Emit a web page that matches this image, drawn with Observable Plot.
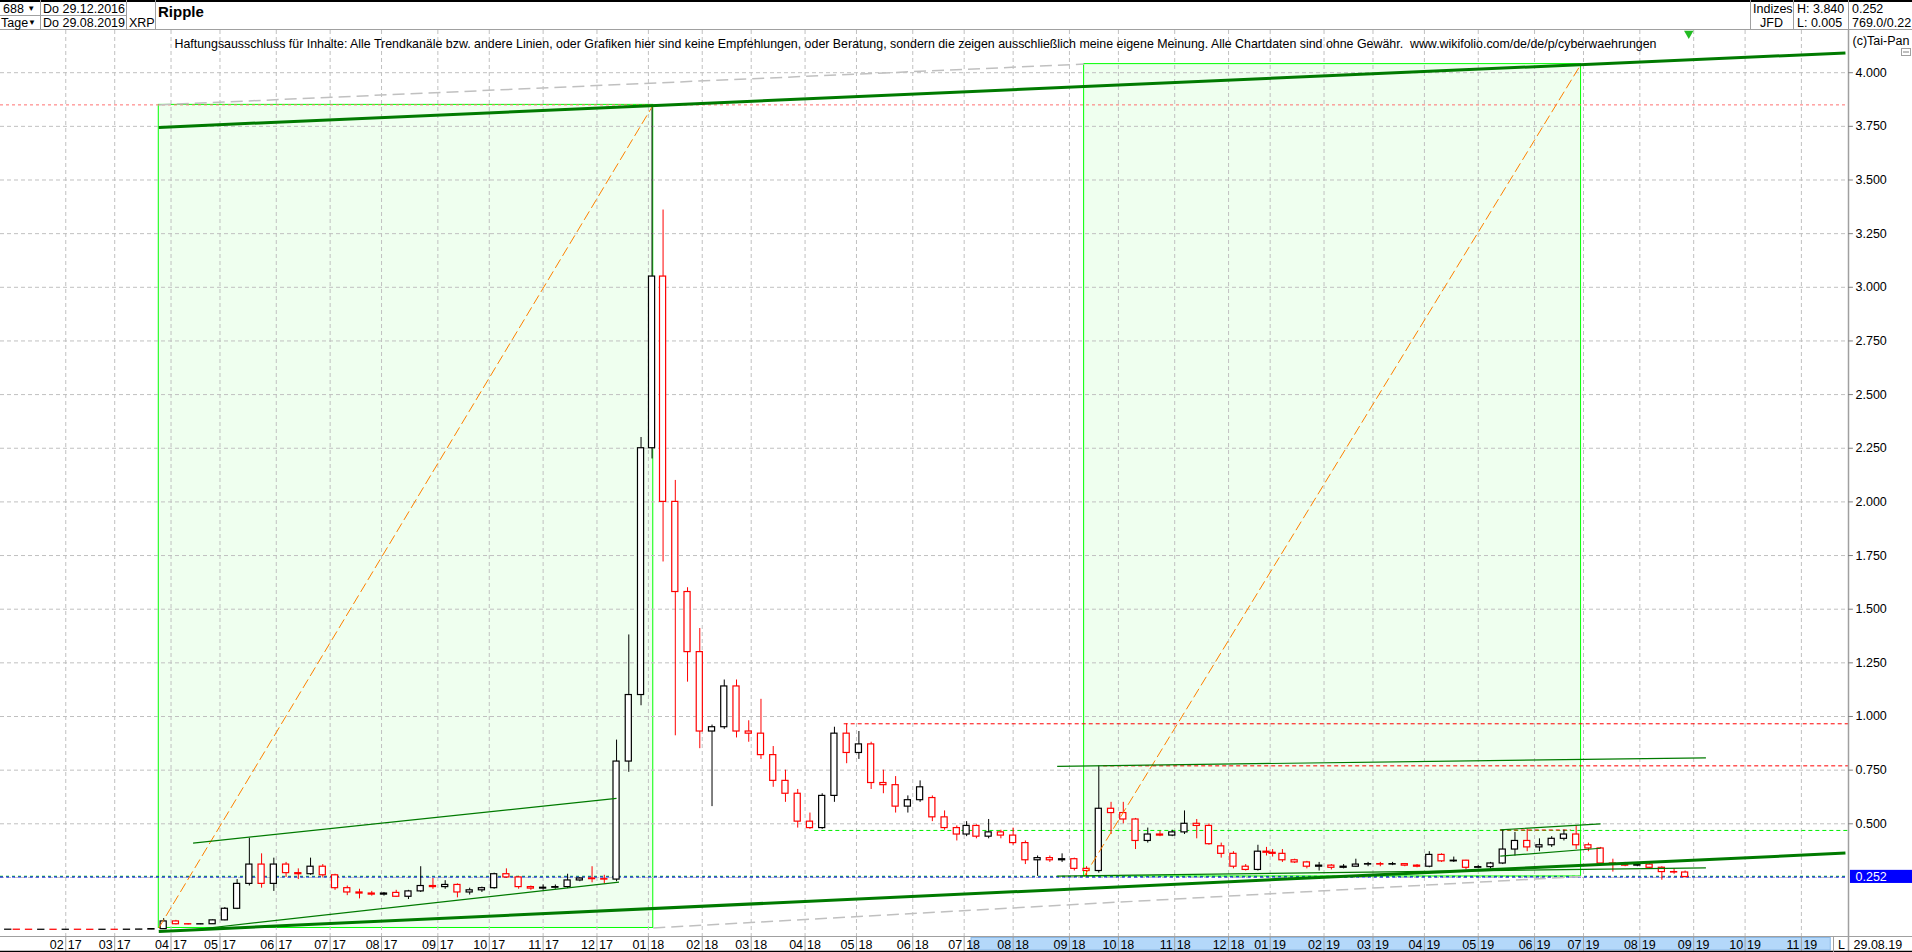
<!DOCTYPE html>
<html><head><meta charset="utf-8">
<script src="https://cdn.jsdelivr.net/npm/d3@7"></script>
<script src="https://cdn.jsdelivr.net/npm/@observablehq/plot@0.6"></script>
<style>
html,body{margin:0;padding:0;background:#fff;}
body{width:1912px;height:952px;overflow:hidden;font-family:"Liberation Sans",Arial,sans-serif;}
#hdr{position:relative;height:30px;width:1912px;}
.c{position:absolute;font-size:12.5px;line-height:14px;white-space:nowrap;color:#000;}
.ln{position:absolute;background:#a0a0a0;}
.tri{font-size:8px;vertical-align:2px;}
#chart{position:relative;height:922px;}
</style></head><body>
<div id="hdr">
  <div class="ln" style="left:0;top:0;width:1912px;height:2px;background:#000"></div>
  <div class="ln" style="left:0;top:29px;width:1912px;height:1px;"></div>
  <div class="ln" style="left:0;top:15px;width:126px;height:1px;"></div>
  <div class="ln" style="left:40px;top:0;width:1px;height:30px;"></div>
  <div class="ln" style="left:126px;top:0;width:1px;height:30px;"></div>
  <div class="ln" style="left:155px;top:0;width:1px;height:30px;"></div>
  <div class="ln" style="left:1750px;top:0;width:1px;height:30px;"></div>
  <div class="ln" style="left:1793px;top:0;width:1px;height:30px;"></div>
  <div class="ln" style="left:1848px;top:0;width:1px;height:30px;"></div>
  <div class="c" style="left:3px;top:2px">688 <span class="tri">▼</span></div>
  <div class="c" style="left:1px;top:16px">Tage<span class="tri">▼</span></div>
  <div class="c" style="left:43px;top:2px">Do 29.12.2016</div>
  <div class="c" style="left:43px;top:16px">Do 29.08.2019</div>
  <div class="c" style="left:129px;top:16px">XRP</div>
  <div class="c" style="left:158px;top:4px;font-weight:bold;font-size:15px;line-height:16px">Ripple</div>
  <div class="c" style="left:1753px;top:2px">Indizes</div>
  <div class="c" style="left:1760px;top:16px">JFD</div>
  <div class="c" style="left:1797px;top:2px">H: 3.840</div>
  <div class="c" style="left:1797px;top:16px">L: 0.005</div>
  <div class="c" style="left:1852px;top:2px">0.252</div>
  <div class="c" style="left:1852px;top:16px">769.0/0.22</div>
</div>
<div id="chart"></div>
<script>
// ---------------- data ----------------
const firstMonday = "2016-12-26";
const lastMonday = "2019-08-26";
const holidays = ["2018-01-01","2018-07-03","2018-07-04","2018-12-24","2018-12-25","2018-12-26","2018-12-31","2019-01-01"];

const weekOpen  = [.0064,.0065,.0063,.0061,.0062,.0061,.0063,.0061,.0060,.0062,.0061,.0066,.0072,.0092,.045,.032,.031,.032,.050,.104,.220,.310,.220,.310,.270,.265,.300,.260,.200,.180,.175,.170,.178,.160,.185,.210,.205,.215,.180,.190,.200,.265,.250,.205,.198,.202,.205,.236,.245,.242,.240,.790,1.10,2.25,3.05,2.00,1.58,1.30,.93,.95,1.14,.93,.92,.82,.70,.64,.51,.48,.63,.92,.83,.87,.69,.68,.58,.61,.62,.53,.48,.45,.49,.44,.46,.445,.41,.33,.34,.33,.335,.29,.28,.57,.55,.52,.42,.45,.445,.46,.50,.49,.395,.36,.30,.285,.37,.365,.36,.33,.32,.30,.305,.295,.30,.31,.312,.31,.312,.305,.30,.355,.325,.328,.295,.298,.315,.38,.42,.39,.40,.43,.45,.40,.385,.315,.31,.305,.31,.295,.275,.273];
const weekHigh  = [.0066,.0068,.0064,.0063,.0063,.0064,.0064,.0062,.0063,.0064,.0068,.0080,.0100,.058,.050,.034,.034,.052,.110,.240,.433,.360,.340,.320,.290,.340,.310,.265,.210,.195,.185,.180,.190,.190,.300,.245,.235,.220,.200,.205,.270,.290,.255,.210,.215,.215,.265,.250,.300,.260,.890,1.38,2.30,3.84,3.36,2.10,1.60,1.41,.96,1.17,1.17,.98,1.08,.86,.75,.66,.55,.64,.95,.966,.93,.88,.75,.72,.63,.70,.63,.56,.49,.51,.495,.52,.47,.48,.42,.35,.35,.36,.34,.30,.77,.60,.60,.525,.48,.465,.47,.56,.52,.50,.41,.37,.31,.40,.39,.38,.38,.335,.325,.32,.31,.31,.335,.32,.32,.32,.315,.31,.37,.36,.345,.33,.305,.32,.47,.46,.475,.43,.44,.47,.49,.41,.39,.335,.32,.32,.315,.30,.29,.28];
const weekLow   = [.0063,.0062,.0060,.0059,.0060,.0060,.0060,.0050,.0058,.0060,.0060,.0065,.0070,.009,.029,.029,.030,.031,.048,.100,.210,.200,.185,.250,.240,.260,.250,.190,.165,.150,.163,.163,.157,.147,.180,.195,.195,.155,.168,.180,.195,.245,.195,.190,.190,.195,.198,.230,.225,.220,.230,.740,1.05,2.20,1.72,.91,1.16,.85,.58,.94,.90,.88,.80,.67,.60,.48,.474,.474,.60,.78,.80,.66,.64,.55,.55,.60,.51,.47,.42,.44,.43,.43,.43,.40,.31,.255,.32,.32,.28,.255,.27,.45,.50,.38,.41,.44,.44,.45,.43,.40,.34,.29,.28,.28,.35,.345,.32,.315,.29,.28,.285,.29,.298,.30,.30,.305,.30,.295,.295,.32,.32,.285,.29,.29,.31,.35,.37,.37,.39,.42,.38,.37,.305,.275,.30,.30,.29,.237,.265,.247];
const weekClose = [.0065,.0063,.0061,.0062,.0061,.0063,.0061,.0060,.0062,.0061,.0066,.0072,.0092,.045,.032,.031,.032,.050,.104,.220,.310,.220,.310,.270,.265,.300,.260,.200,.180,.175,.170,.175,.160,.185,.210,.205,.215,.180,.190,.200,.265,.250,.205,.198,.202,.205,.236,.245,.242,.240,.790,1.10,2.25,3.05,2.00,1.58,1.30,.93,.95,1.14,.93,.92,.82,.70,.64,.51,.48,.63,.92,.83,.87,.69,.68,.58,.61,.67,.53,.48,.45,.49,.44,.46,.445,.41,.33,.34,.33,.335,.29,.28,.57,.55,.52,.42,.45,.445,.46,.50,.49,.405,.36,.30,.285,.37,.365,.36,.33,.32,.30,.305,.295,.30,.31,.312,.31,.312,.305,.30,.355,.325,.328,.295,.298,.315,.38,.42,.39,.40,.43,.45,.40,.385,.315,.31,.305,.31,.295,.275,.273,.252];

const lastPrice = 0.252;
// boxes (date, price corners)
const boxDates1 = ["2017-03-27", "2018-09-11"];
const boxDates2 = ["2018-01-04", "2019-06-28"];
const boxLow  = [0.0145, 0.2545];
const boxHigh = [3.85, 4.04];
// trend lines: [start date, start price, end date, end price]
const thickLines = [
  ["2017-03-27", 3.745, "2019-11-27", 4.092],
  ["2017-03-27", -0.002, "2019-11-27", 0.3635]
];
const thinLines = [
  ["2017-04-14", 0.410, "2017-12-13", 0.618],
  ["2017-04-17", 0.0075, "2017-12-14", 0.228],
  ["2018-08-27", 0.768, "2019-09-09", 0.8075],
  ["2018-08-27", 0.256, "2019-09-09", 0.295],
  ["2019-05-14", 0.472, "2019-07-10", 0.500],
  ["2019-05-14", 0.349, "2019-07-10", 0.386]
];
const grayLines = [
  ["2017-03-27", 3.85, "2018-09-11", 4.04],
  ["2018-01-04", 0.0145, "2019-06-28", 0.2545]
];
// horizontal levels: [price, from date (null = whole width), to date (null = right edge), color, dash]
const levels = [
  [3.85, null, null, "#ff7070", "3,3"],
  [0.966, "2018-04-24", null, "#ff0000", "4,3"],
  [0.77, "2018-09-21", null, "#ff0000", "4,3"],
  [0.469, "2018-04-06", null, "#00ee00", "4,3"],
  [0.471, "2019-05-14", "2019-06-24", "#ff0000", "4,3"],
  [0.2555, null, null, "#00cc00", "3,3"],
  [0.252, null, null, "#0000ff", "3,3"]
];
const gridPrices = d3.range(0.25, 4.001, 0.25);
const axisPrices = d3.range(0.5, 4.001, 0.25);
const bandDates = ["2018-07-09", "2019-11-19"];
const disclaimer = "Haftungsausschluss für Inhalte: Alle Trendkanäle bzw. andere Linien, oder Grafiken hier sind keine Empfehlungen, oder Beratung, sondern die zeigen ausschließlich meine eigene Meinung. Alle Chartdaten sind ohne Gewähr.  www.wikifolio.com/de/de/p/cyberwaehrungen";

// ---------------- trading-day index ----------------
const hol = new Set(holidays);
const idxMap = new Map();
{
  let n = -3;
  for (let t = Date.UTC(2016, 11, 26); t <= Date.UTC(2019, 11, 31); t += 864e5) {
    const d = new Date(t);
    const s = d.toISOString().slice(0, 10);
    const wd = d.getUTCDay();
    const trading = wd !== 0 && wd !== 6 && !hol.has(s);
    idxMap.set(s, {i: n, trading});
    if (trading) n++;
  }
}
const ix = s => idxMap.get(s).i;
const iso = d => d.toISOString().slice(0, 10);

const mondays = d3.utcMonday.range(new Date(firstMonday), d3.utcDay.offset(new Date(lastMonday), 1));
const candles = mondays.map((m, k) => {
  const days = d3.range(5).map(j => iso(d3.utcDay.offset(m, j)))
    .filter(s => idxMap.get(s).trading && ix(s) >= 0 && ix(s) <= ix("2019-08-29"));
  const x = d3.mean(days, ix);
  return {x, o: weekOpen[k], h: weekHigh[k], l: weekLow[k], c: weekClose[k]};
});
const col = d => d.c >= d.o ? "#000000" : "#ff0000";

const monthStarts = d3.utcMonth.range(new Date("2017-02-01"), new Date("2019-11-02"));
const ticks = monthStarts.map(d => ({i: ix(iso(d)), m: d3.utcFormat("%m")(d), y: d3.utcFormat("%y")(d)}));

// ---------------- geometry of scales ----------------
const x0px = 6.5, pxPerDay = 2.448;
const plotRight = 1848;
const xMin = (0 - x0px) / pxPerDay, xMax = (plotRight - x0px) / pxPerDay;
const yMin = -0.0252, yMax = 4.1966;
const pxPerUnit = 906 / (yMax - yMin);
const yBand1 = yMin - 1.5 / pxPerUnit, yBand2 = yMin - 14 / pxPerUnit, yBandBottom = yMin - 16 / pxPerUnit;
const halfBody = 1.25;

const seg = a => ({x1: ix(a[0]), y1: a[1], x2: ix(a[2]), y2: a[3]});
const boxes = [0, 1].map(k => ({x1: ix(boxDates1[k]), x2: ix(boxDates2[k]), y1: boxLow[k], y2: boxHigh[k]}));
const diagonals = boxes.map(b => ({x1: b.x1, y1: b.y1, x2: b.x2, y2: b.y2}));
const lev = levels.map(l => ({y: l[0], x1: l[1] ? ix(l[1]) : xMin, x2: l[2] ? ix(l[2]) : xMax, stroke: l[3], dash: l[4]}));
const lastIdx = ix("2019-08-29");

const chart = Plot.plot({
  width: 1912, height: 922,
  marginLeft: 0, marginRight: 1912 - plotRight, marginTop: 0, marginBottom: 16,
  x: {type: "linear", domain: [xMin, xMax], axis: null},
  y: {type: "linear", domain: [yMin, yMax], axis: null},
  style: {fontFamily: "'Liberation Sans', Arial, sans-serif", fontSize: "12px", background: "#fff", overflow: "visible"},
  marks: [
    // boxes
    Plot.rect(boxes, {x1: "x1", x2: "x2", y1: "y1", y2: "y2", fill: "#efffef", stroke: "#00ff00", strokeWidth: 1}),
    // bottom band
    Plot.rect([bandDates], {x1: d => ix(d[0]), x2: d => ix(d[1]), y1: yBand1, y2: yBand2, fill: "#b4d8fa", stroke: "#8ab8e6"}),
    // gridlines
    Plot.ruleX(ticks, {x: "i", stroke: "#c0c0c0", strokeDasharray: "4,3"}),
    Plot.ruleY(gridPrices, {stroke: "#c0c0c0", strokeDasharray: "4,3"}),
    // level lines
    ...lev.map(l => Plot.ruleY([l], {y: "y", x1: "x1", x2: "x2", stroke: l.stroke, strokeDasharray: l.dash, strokeWidth: 1})),
    // candles
    Plot.ruleX(candles, {x: "x", y1: "l", y2: "h", stroke: col, strokeWidth: 1}),
    Plot.rect(candles, {x1: d => d.x - halfBody, x2: d => d.x + halfBody, y1: "o", y2: "c", fill: "#ffffff", stroke: col, strokeWidth: 1.2}),
    // drawings
    Plot.link(grayLines.map(seg), {x1: "x1", y1: "y1", x2: "x2", y2: "y2", stroke: "#c0c0c0", strokeWidth: 1.5, strokeDasharray: "12,6"}),
    Plot.link(diagonals, {x1: "x1", y1: "y1", x2: "x2", y2: "y2", stroke: "#ff8000", strokeWidth: 1, strokeDasharray: "10,4"}),
    Plot.link(thinLines.map(seg), {x1: "x1", y1: "y1", x2: "x2", y2: "y2", stroke: "#007a00", strokeWidth: 1.2}),
    Plot.link(thickLines.map(seg), {x1: "x1", y1: "y1", x2: "x2", y2: "y2", stroke: "#007a00", strokeWidth: 3}),
    // frame pieces
    Plot.ruleX([xMax], {y1: yBandBottom, y2: yMax, stroke: "#a0a0a0", strokeWidth: 1.5}),
    Plot.ruleY([yMin], {x1: xMin, x2: xMax + 30, stroke: "#a0a0a0"}),
    // bottom axis
    Plot.ruleX(ticks, {x: "i", y1: yMin, y2: yBandBottom, stroke: "#a0a0a0"}),
    Plot.text(ticks, {x: "i", text: "m", frameAnchor: "bottom", dy: 8, dx: -2, textAnchor: "end", lineAnchor: "middle", fontSize: 12.5, fill: "#000"}),
    Plot.text(ticks, {x: "i", text: "y", frameAnchor: "bottom", dy: 8, dx: 2, textAnchor: "start", lineAnchor: "middle", fontSize: 12.5, fill: "#000"}),
    Plot.text(["L"], {frameAnchor: "bottom-right", dx: -7, dy: 8, textAnchor: "middle", lineAnchor: "middle", fontSize: 12.5}),
    Plot.text(["29.08.19"], {frameAnchor: "bottom-right", dx: 5, dy: 8, textAnchor: "start", lineAnchor: "middle", fontSize: 12.5}),
    // right axis
    Plot.ruleY(axisPrices, {x1: xMax, x2: xMax + 2, stroke: "#808080"}),
    Plot.text(axisPrices, {y: d => d, text: d => d3.format(".3f")(d), frameAnchor: "right", dx: 7, textAnchor: "start", lineAnchor: "middle", fontSize: 12.5, fill: "#000"}),
    Plot.rect([lastPrice], {x1: xMax + 0.8, x2: xMax + 27, y1: d => d - 0.03, y2: d => d + 0.031, fill: "#0000ff"}),
    Plot.text([lastPrice], {y: d => d, text: d => d3.format(".3f")(d), frameAnchor: "right", dx: 7, textAnchor: "start", lineAnchor: "middle", fontSize: 12.5, fill: "#ffffff"}),
    // annotations
    Plot.text([disclaimer], {frameAnchor: "top-left", dx: 174, dy: 13, textAnchor: "start", lineAnchor: "middle", fontSize: 13, fill: "#000"}),
    Plot.text(["(c)Tai-Pan"], {frameAnchor: "top-right", dx: 4, dy: 10, textAnchor: "start", lineAnchor: "middle", fontSize: 12.5, fill: "#000"}),
    Plot.dot([lastIdx], {x: d => d, frameAnchor: "top", dy: 3, symbol: "triangle", r: 3.5, fill: "#22bb22", stroke: "none", rotate: 180})
  ]
});
document.getElementById("chart").appendChild(chart);

// chrome: bottom black border, band separator, small box
const svg = d3.select(chart);
svg.selectAll("text").filter(function() { return this.textContent.startsWith("Haftungs"); })
  .attr("textLength", 1482).attr("lengthAdjust", "spacingAndGlyphs").attr("xml:space", "preserve");
svg.append("line").attr("x1", 0).attr("x2", 1912).attr("y1", 921.5).attr("y2", 921.5).attr("stroke", "#000").attr("stroke-width", 1.5);
svg.append("line").attr("x1", 1833.5).attr("x2", 1833.5).attr("y1", 906).attr("y2", 922).attr("stroke", "#a0a0a0");
svg.append("rect").attr("x", 1901.5).attr("y", 18.5).attr("width", 9).attr("height", 7).attr("fill", "#fff").attr("stroke", "#a0a0a0");
svg.append("line").attr("x1", 1903).attr("x2", 1909).attr("y1", 22).attr("y2", 22).attr("stroke", "#808080");
</script>
</body></html>
